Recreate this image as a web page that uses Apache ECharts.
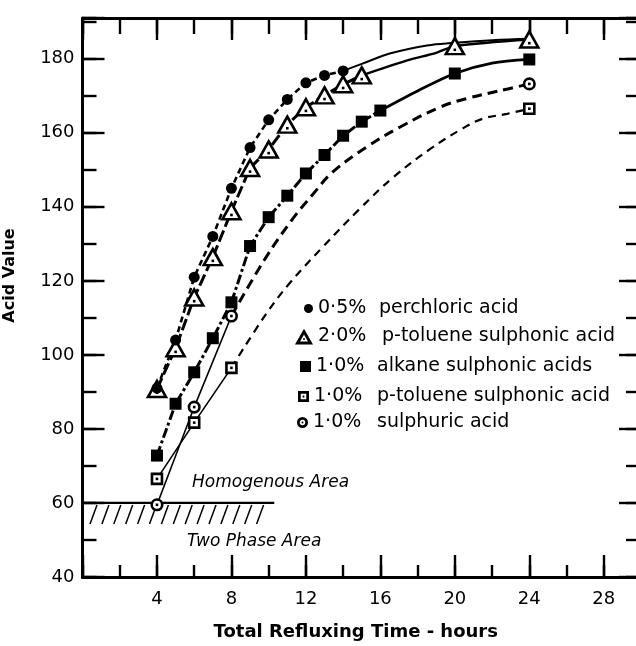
<!DOCTYPE html>
<html><head><meta charset="utf-8">
<script src="https://cdn.jsdelivr.net/npm/echarts@6/dist/echarts.min.js"></script>
<style>html,body{margin:0;padding:0;background:#fff}#c{width:636px;height:646px}</style>
</head><body><div id="c"></div>
<script>
// ---------- data ----------
const seriesNames = ['0·5% perchloric acid', '2·0% p-toluene sulphonic acid', '1·0% alkane sulphonic acids', '1·0% p-toluene sulphonic acid', '1·0% sulphuric acid'];
const xTickLabels = [4, 8, 12, 16, 20, 24, 28];
const yTickLabels = [40, 60, 80, 100, 120, 140, 160, 180];

const perchloricHours = [4, 5, 6, 7, 8, 9, 10, 11, 12, 13, 14];
const perchloricValues = [91, 104, 121, 132, 145, 156, 163.5, 169, 173.5, 175.5, 176.7];
const perchloricTailHours = [14, 15, 16.5, 18.5, 20, 22, 24];
const perchloricTailValues = [176.7, 178.6, 181.4, 183.6, 184.3, 185, 185.4];

const ptsa2Hours = [4, 5, 6, 7, 8, 9, 10, 11, 12, 13, 14, 15, 20, 24];
const ptsa2Values = [90.8, 101.8, 115.5, 126.4, 138.8, 150.5, 155.5, 162.2, 166.9, 170.1, 173.1, 175.5, 183.4, 185.2];
const ptsa2TailHours = [15, 17.4, 19, 20, 24];
const ptsa2TailValues = [175.5, 179.5, 181.6, 183.4, 185.2];

const alkaneHours = [4, 5, 6, 7, 8, 9, 10, 11, 12, 13, 14, 15, 16, 20, 24];
const alkaneValues = [72.8, 86.8, 95.3, 104.5, 114.2, 129.4, 137.2, 143, 149, 154, 159.2, 163, 166, 176, 179.8];
const alkaneTailHours = [16, 18, 20, 22, 24];
const alkaneTailValues = [166, 171.3, 176, 178.8, 179.8];

const ptsa1Hours = [4, 6, 8, 24];
const ptsa1Values = [66.5, 81.7, 96.5, 166.5];
const ptsa1CurveHours = [8, 9.8, 11.1, 12.9, 14.9, 16.7, 18.7, 20.4, 21.5, 22.8, 24];
const ptsa1CurveValues = [96.5, 110.6, 119.2, 129.1, 139.5, 148, 155.7, 161.1, 163.8, 165.1, 166.5];

const sulphHours = [4, 6, 8, 24];
const sulphValues = [59.5, 85.9, 110.5, 173.2];
const sulphCurveHours = [8, 9.8, 11.3, 12.4, 13.4, 15.25, 17.04, 19.2, 20.6, 22.9, 24];
const sulphCurveValues = [110.5, 125.9, 136.8, 143.5, 149.2, 156.1, 161.5, 166.9, 169.2, 171.9, 173.2];

const phaseBoundary = [[0, 10.3, 60]]; // from hour, to hour, acid value
const annotations = ['Homogenous Area', 'Two Phase Area'];

// ---------- chart ----------
const zip = (xs, ys) => xs.map((x, i) => [x, ys[i]]);
const FONT = '"DejaVu Sans", sans-serif';
const BLACK = '#000';

const chart = echarts.init(document.getElementById('c'), null, {renderer: 'canvas'});

function lineSeries(data, width, type, smooth) {
  return {type: 'line', data, symbol: 'none', silent: true, z: 2, smooth: smooth || false,
    lineStyle: {color: BLACK, width, type: type || 'solid', cap: 'butt', opacity: 1}, clip: false};
}
function dotSeries(data) {
  return {type: 'scatter', data, symbol: 'rect', symbolSize: 2.6, silent: true, z: 7,
    itemStyle: {color: BLACK, opacity: 1}};
}

const triPath = 'path://M8 0L16 14H0Z M8 5.24L4.48 11.4H11.52Z M7.3 8.66H8.7V10.06H7.3Z';
const sqPath = 'path://M0 0H10V10H0Z M2.5 2.5V7.5H7.5V2.5Z M4.2 4.2H5.8V5.8H4.2Z';
const circPath = 'path://M5 0A5 5 0 1 1 5 10A5 5 0 1 1 5 0Z M5 2.5A2.5 2.5 0 1 0 5 7.5A2.5 2.5 0 1 0 5 2.5Z M5 4.1A0.9 0.9 0 1 1 5 5.9A0.9 0.9 0 1 1 5 4.1Z';

const legendRows = [
  {icon: 'circle', w: 9, h: 9, left: 304, top: 299, pw: 61},
  {icon: triPath, w: 18, h: 16, left: 295, top: 327, pw: 64},
  {icon: 'rect', w: 11, h: 11, left: 300, top: 357, pw: 61},
  {icon: sqPath, w: 11, h: 11, left: 298, top: 387, pw: 63},
  {icon: circPath, w: 11, h: 11, left: 297, top: 413, pw: 64}
];
const legends = legendRows.map((r, i) => ({
  data: [{name: seriesNames[i], icon: r.icon, itemStyle: {color: BLACK, borderWidth: 0, opacity: 1}}],
  left: r.left, top: r.top, itemWidth: r.w, itemHeight: r.h, selectedMode: false,
  orient: 'vertical', padding: 0,
  formatter: name => {
    const k = name.indexOf(' ');
    return '{p|' + name.slice(0, k) + '}{n|' + name.slice(k + 1) + '}';
  },
  textStyle: {color: BLACK, fontFamily: FONT, fontSize: 19,
    rich: {p: {width: r.pw, fontFamily: FONT, fontSize: 19, color: BLACK},
           n: {fontFamily: FONT, fontSize: 19, color: BLACK}}}
}));

const labelStyle = {color: BLACK, fontFamily: FONT, fontSize: 18};
function xAx(position, interval, len, main, labels) {
  return {type: 'value', position, min: 0, max: 30, interval,
    axisLine: {show: main, onZero: false, lineStyle: {color: BLACK, width: 3}},
    axisTick: {show: true, inside: true, length: len, lineStyle: {color: BLACK, width: 2.4}},
    splitLine: {show: false},
    axisLabel: labels ? Object.assign({margin: 13, formatter: v => xTickLabels.includes(v) ? String(v) : ''}, labelStyle) : {show: false},
    name: labels ? 'Total Refluxing Time - hours' : '', nameLocation: 'middle', nameGap: 46,
    nameTextStyle: {color: BLACK, fontFamily: FONT, fontSize: 18, fontWeight: 'bold', padding: [0, 12, 0, 0]}
  };
}
function yAx(position, interval, len, main, labels) {
  return {type: 'value', position, min: 40, max: 191, interval,
    axisLine: {show: main, onZero: false, lineStyle: {color: BLACK, width: 3}},
    axisTick: {show: true, inside: true, length: len, lineStyle: {color: BLACK, width: 2.4}},
    splitLine: {show: false},
    axisLabel: labels ? Object.assign({margin: 8, formatter: v => yTickLabels.includes(v) ? String(v) : ''}, labelStyle) : {show: false},
    name: labels ? 'Acid Value' : '', nameLocation: 'middle', nameGap: 65,
    nameTextStyle: {color: BLACK, fontFamily: FONT, fontSize: 16, fontWeight: 'bold', padding: [0, 0, 0, 44]}
  };
}

const option = {
  backgroundColor: '#fff',
  animation: false,
  grid: {left: 82.5, width: 558.5, top: 18, bottom: 69, containLabel: false, outerBoundsMode: 'none'},
  legend: legends,
  xAxis: [xAx('bottom', 4, 22, true, true), xAx('bottom', 2, 12, false, false),
          xAx('top', 4, 22, true, false), xAx('top', 2, 16, false, false)],
  yAxis: [yAx('left', 20, 22, true, true), yAx('left', 10, 14, false, false),
          yAx('right', 20, 22, true, false), yAx('right', 10, 15, false, false)],
  graphic: [
    {type: 'text', left: 192, top: 474, silent: true,
     style: {text: annotations[0], fill: BLACK, font: 'italic 17px "DejaVu Sans"'}},
    {type: 'text', left: 187, top: 533, silent: true,
     style: {text: annotations[1], fill: BLACK, font: 'italic 17px "DejaVu Sans"'}}
  ],
  series: [
    lineSeries(zip(perchloricHours, perchloricValues), 2.6, [6, 4]),
    lineSeries(zip(perchloricTailHours, perchloricTailValues), 2, 'solid', 0.4),
    lineSeries(zip(ptsa2Hours, ptsa2Values).slice(0, 12), 3, [12, 4]),
    lineSeries(zip(ptsa2TailHours, ptsa2TailValues), 2.4, 'solid', 0.3),
    lineSeries(zip(alkaneHours, alkaneValues).slice(0, 13), 3, [10, 3, 3, 3]),
    lineSeries(zip(alkaneTailHours, alkaneTailValues), 2.8, 'solid', 0.3),
    lineSeries(zip(ptsa1Hours, ptsa1Values).slice(0, 3), 1.6, 'solid'),
    lineSeries(zip(ptsa1CurveHours, ptsa1CurveValues), 2.2, [8, 6], 0.4),
    lineSeries(zip(sulphHours, sulphValues).slice(0, 3), 1.6, 'solid'),
    lineSeries(zip(sulphCurveHours, sulphCurveValues), 3, [10, 6], 0.4),
    {type: 'custom', silent: true, z: 2, clip: false, data: phaseBoundary,
     encode: {x: [0, 1], y: 2},
     renderItem: (params, api) => {
       const a = api.coord([api.value(0), api.value(2)]);
       const b = api.coord([api.value(1), api.value(2)]);
       const children = [{type: 'line', shape: {x1: a[0], y1: a[1], x2: b[0], y2: b[1]},
                          style: {stroke: BLACK, lineWidth: 2.2}}];
       for (let x = a[0] + 14.5; x <= b[0] + 1; x += 11.9) {
         children.push({type: 'line', shape: {x1: x, y1: a[1] + 2, x2: x - 7, y2: a[1] + 21},
                        style: {stroke: BLACK, lineWidth: 1.5}});
       }
       return {type: 'group', children};
     }},
    {name: seriesNames[1], type: 'scatter', data: zip(ptsa2Hours, ptsa2Values), symbol: 'triangle',
     symbolSize: [18, 16], z: 4, itemStyle: {color: '#fff', borderColor: BLACK, borderWidth: 2.6, opacity: 1}},
    {name: seriesNames[0], type: 'scatter', data: zip(perchloricHours, perchloricValues), symbol: 'circle',
     symbolSize: 11, z: 5, itemStyle: {color: BLACK, opacity: 1}},
    {name: seriesNames[2], type: 'scatter', data: zip(alkaneHours, alkaneValues), symbol: 'rect',
     symbolSize: 12, z: 4, itemStyle: {color: BLACK, opacity: 1}},
    {name: seriesNames[3], type: 'scatter', data: zip(ptsa1Hours, ptsa1Values), symbol: 'rect',
     symbolSize: 10, z: 4, itemStyle: {color: '#fff', borderColor: BLACK, borderWidth: 2.6, opacity: 1}},
    {name: seriesNames[4], type: 'scatter', data: zip(sulphHours, sulphValues), symbol: 'circle',
     symbolSize: 10.5, z: 6, itemStyle: {color: '#fff', borderColor: BLACK, borderWidth: 2.6, opacity: 1}},
    dotSeries(zip(ptsa2Hours, ptsa2Values).map(p => [p[0], p[1] - 1])),
    dotSeries(zip(ptsa1Hours, ptsa1Values)),
    dotSeries(zip(sulphHours, sulphValues))
  ]
};
chart.setOption(option);
</script></body></html>
